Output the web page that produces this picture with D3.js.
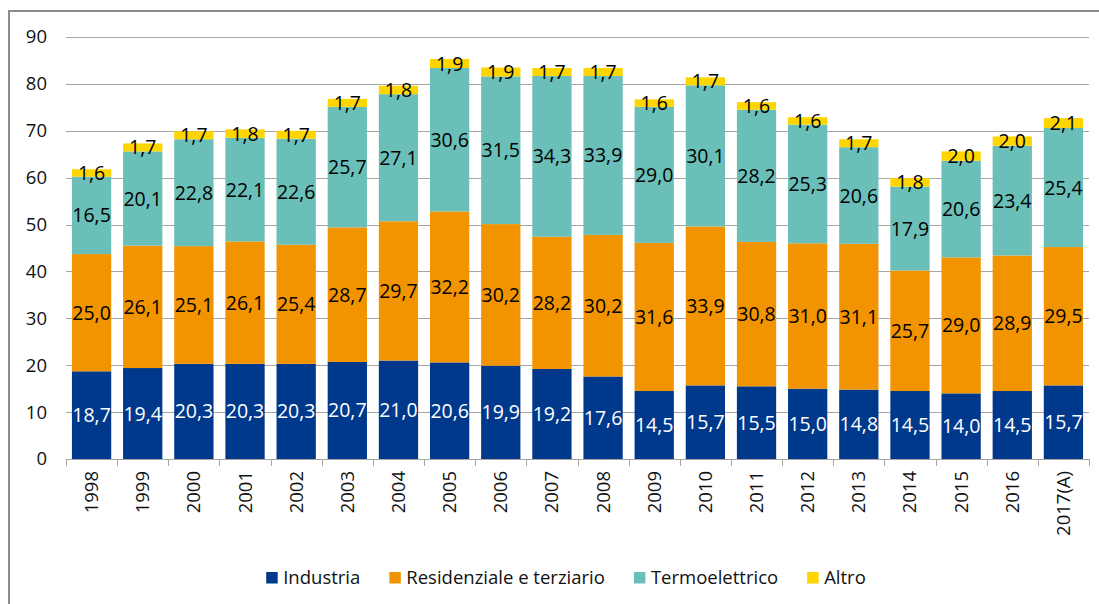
<!DOCTYPE html>
<html>
<head>
<meta charset="utf-8">
<script src="https://cdn.jsdelivr.net/npm/d3@7"></script>
<style>
  html, body { margin: 0; padding: 0; background: #fff; }
  svg { display: block; font-family: "Open Sans", "Liberation Sans", sans-serif; }
</style>
</head>
<body>
<svg id="chart" width="1099" height="604"></svg>
<script>
const years = ["1998","1999","2000","2001","2002","2003","2004","2005","2006","2007","2008","2009","2010","2011","2012","2013","2014","2015","2016","2017(A)"];
const industria     = [18.7,19.4,20.3,20.3,20.3,20.7,21.0,20.6,19.9,19.2,17.6,14.5,15.7,15.5,15.0,14.8,14.5,14.0,14.5,15.7];
const residenziale  = [25.0,26.1,25.1,26.1,25.4,28.7,29.7,32.2,30.2,28.2,30.2,31.6,33.9,30.8,31.0,31.1,25.7,29.0,28.9,29.5];
const termoelettrico= [16.5,20.1,22.8,22.1,22.6,25.7,27.1,30.6,31.5,34.3,33.9,29.0,30.1,28.2,25.3,20.6,17.9,20.6,23.4,25.4];
const altro         = [1.6,1.7,1.7,1.8,1.7,1.7,1.8,1.9,1.9,1.7,1.7,1.6,1.7,1.6,1.6,1.7,1.8,2.0,2.0,2.1];
const seriesNames   = ["Industria","Residenziale e terziario","Termoelettrico","Altro"];
const seriesColors  = ["#00398C","#F29400","#6ABFB8","#FFD500"];
const labelColors   = ["#ffffff","#000000","#000000","#000000"];
const yTicks        = [0,10,20,30,40,50,60,70,80,90];

(function () {
const seriesValues = [industria, residenziale, termoelettrico, altro];
const keys = ["s0","s1","s2","s3"];
const table = years.map((yr, i) => {
  const row = { year: yr };
  keys.forEach((k, j) => row[k] = seriesValues[j][i]);
  return row;
});

const svg = d3.select("#chart");
const fmt = v => v.toFixed(1).replace(".", ",");

// outer frame
svg.append("rect").attr("x", 9).attr("y", 11).attr("width", 1300).attr("height", 800)
  .attr("fill", "none").attr("stroke", "#8c8c8c").attr("stroke-width", 2);

const pLeft = 66, pRight = 1089, pTop = 37, pBottom = 459;
const pad = 0.232;
const x = d3.scaleBand().domain(years).range([pLeft, pRight]).paddingInner(pad).paddingOuter(pad / 2);
const y = d3.scaleLinear().domain([0, 90]).range([pBottom, pTop]);

// gridlines
svg.append("g").selectAll("line").data(yTicks.filter(t => t > 0)).join("line")
  .attr("x1", pLeft).attr("x2", pRight)
  .attr("y1", d => Math.round(y(d)) + 0.5).attr("y2", d => Math.round(y(d)) + 0.5)
  .attr("stroke", "#a6a6a6").attr("stroke-width", 1);

// y axis labels
const yAxis = d3.axisLeft(y).tickValues(yTicks).tickSize(0).tickPadding(0).tickFormat(d3.format("d"));
const yg = svg.append("g").attr("transform", `translate(${pLeft - 19},0)`).call(yAxis);
yg.select(".domain").remove();
yg.selectAll("text").attr("font-size", 18.5).attr("fill", "#111").attr("font-family", "'Open Sans', sans-serif");

// stacked bars
const stack = d3.stack().keys(keys)(table);
const layers = svg.append("g").selectAll("g").data(stack).join("g")
  .attr("fill", (d, i) => seriesColors[i]);
layers.selectAll("rect").data(d => d).join("rect")
  .attr("x", d => x(d.data.year))
  .attr("width", x.bandwidth())
  .attr("y", d => y(d[1]))
  .attr("height", d => y(d[0]) - y(d[1]));

// x axis
const step = x.step();
const xAxisG = svg.append("g");
xAxisG.append("line").attr("x1", pLeft).attr("x2", pRight)
  .attr("y1", pBottom + 0.5).attr("y2", pBottom + 0.5).attr("stroke", "#a6a6a6");
const tickPos = d3.range(years.length + 1).map(i => pLeft + i * step);
xAxisG.selectAll("line.tk").data(tickPos).join("line").attr("class", "tk")
  .attr("x1", d => Math.round(d) + 0.5).attr("x2", d => Math.round(d) + 0.5)
  .attr("y1", pBottom).attr("y2", pBottom + 7).attr("stroke", "#a6a6a6");
xAxisG.selectAll("text").data(years).join("text")
  .attr("transform", d => `translate(${x(d) + x.bandwidth() / 2 + 6.5},${pBottom + 12}) rotate(-90)`)
  .attr("text-anchor", "end")
  .attr("font-size", 18.5).attr("fill", "#111")
  .text(d => d);

// data labels
stack.forEach((layer, i) => {
  svg.append("g").selectAll("text").data(layer).join("text")
    .attr("x", d => x(d.data.year) + x.bandwidth() / 2)
    .attr("y", d => y((d[0] + d[1]) / 2))
    .attr("dy", "0.36em")
    .attr("text-anchor", "middle")
    .attr("font-size", 19.5)
    .attr("fill", labelColors[i])
    .text(d => fmt(d[1] - d[0]));
});

// legend
const lg = svg.append("g");
const items = lg.selectAll("g").data(seriesNames).join("g");
items.append("rect").attr("width", 11.5).attr("height", 11.5).attr("y", -12)
  .attr("fill", (d, i) => seriesColors[i]);
items.append("text").attr("x", 17).attr("y", 0).attr("font-size", 18.5).attr("fill", "#111").text(d => d);
let cx = 0;
items.each(function () {
  const g = d3.select(this);
  const w = 17 + g.select("text").node().getComputedTextLength();
  g.attr("transform", `translate(${cx},0)`);
  cx += w + 29;
});
const totalW = cx - 29;
lg.attr("transform", `translate(${566 - totalW / 2},584)`);
})();
</script>
</body>
</html>
